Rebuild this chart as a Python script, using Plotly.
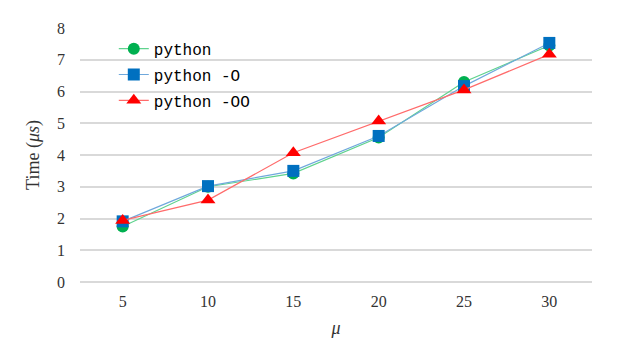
import plotly.graph_objects as go

categories = ["5", "10", "15", "20", "25", "30"]
python_plain = [1.75, 3.0, 3.42, 4.55, 6.3, 7.45]
python_O = [1.91, 3.02, 3.5, 4.6, 6.17, 7.53]
python_OO = [1.94, 2.58, 4.07, 5.07, 6.05, 7.17]
y_ticks = [0, 1, 2, 3, 4, 5, 6, 7, 8]

SERIF = "Times New Roman, Liberation Serif, serif"
MONO = "Courier New, Liberation Mono, monospace"

series = [
    ("python", python_plain, "circle", "#00b050", "#5fd38e", 12),
    ("python -O", python_O, "square", "#0070c0", "#6fa8dc", 12),
    ("python -OO", python_OO, "triangle-up", "#ff0000", "#ff6b6b", 13),
]

fig = go.Figure()
for i, (name, vals, sym, mcol, lcol, msize) in enumerate(series):
    fig.add_trace(go.Scatter(
        x=categories, y=vals, name=name, mode="lines+markers",
        line=dict(color=lcol, width=1.2),
        marker=dict(symbol=sym, color=mcol, size=msize, line=dict(width=0)),
        legendgroup=f"g{i}",
    ))

fig.update_layout(
    width=616, height=346,
    margin=dict(l=72, r=32, t=14, b=72),
    paper_bgcolor="white", plot_bgcolor="white",
    font=dict(family=SERIF, size=16, color="#333333"),
    showlegend=True,
    legend=dict(
        x=0.066, y=0.985, xanchor="left", yanchor="top",
        font=dict(family=MONO, size=16, color="#000000"),
        bgcolor="rgba(255,255,255,0)",
        traceorder="grouped", tracegroupgap=2,
    ),
    xaxis=dict(
        type="category", range=[-0.5, 5.5], showgrid=False, zeroline=False, showline=False,
        tickfont=dict(family=SERIF, size=16, color="#333333"),
        ticks="", ticklabelstandoff=8,
        title=dict(text="<i>μ</i>", font=dict(family=SERIF, size=18, color="#333333"), standoff=12),
    ),
    yaxis=dict(
        range=[0, 8], tickvals=y_ticks, showgrid=True, gridcolor="#d9d9d9", gridwidth=1.5,
        zeroline=True, zerolinecolor="#d9d9d9", zerolinewidth=1.5,
        showline=False, ticks="", ticklabelstandoff=14,
        tickfont=dict(family=SERIF, size=16, color="#333333"),
        title=dict(text="Time (<i>μs</i>)", font=dict(family=SERIF, size=18, color="#333333"), standoff=12),
    ),
)

fig.write_html("out.html")
